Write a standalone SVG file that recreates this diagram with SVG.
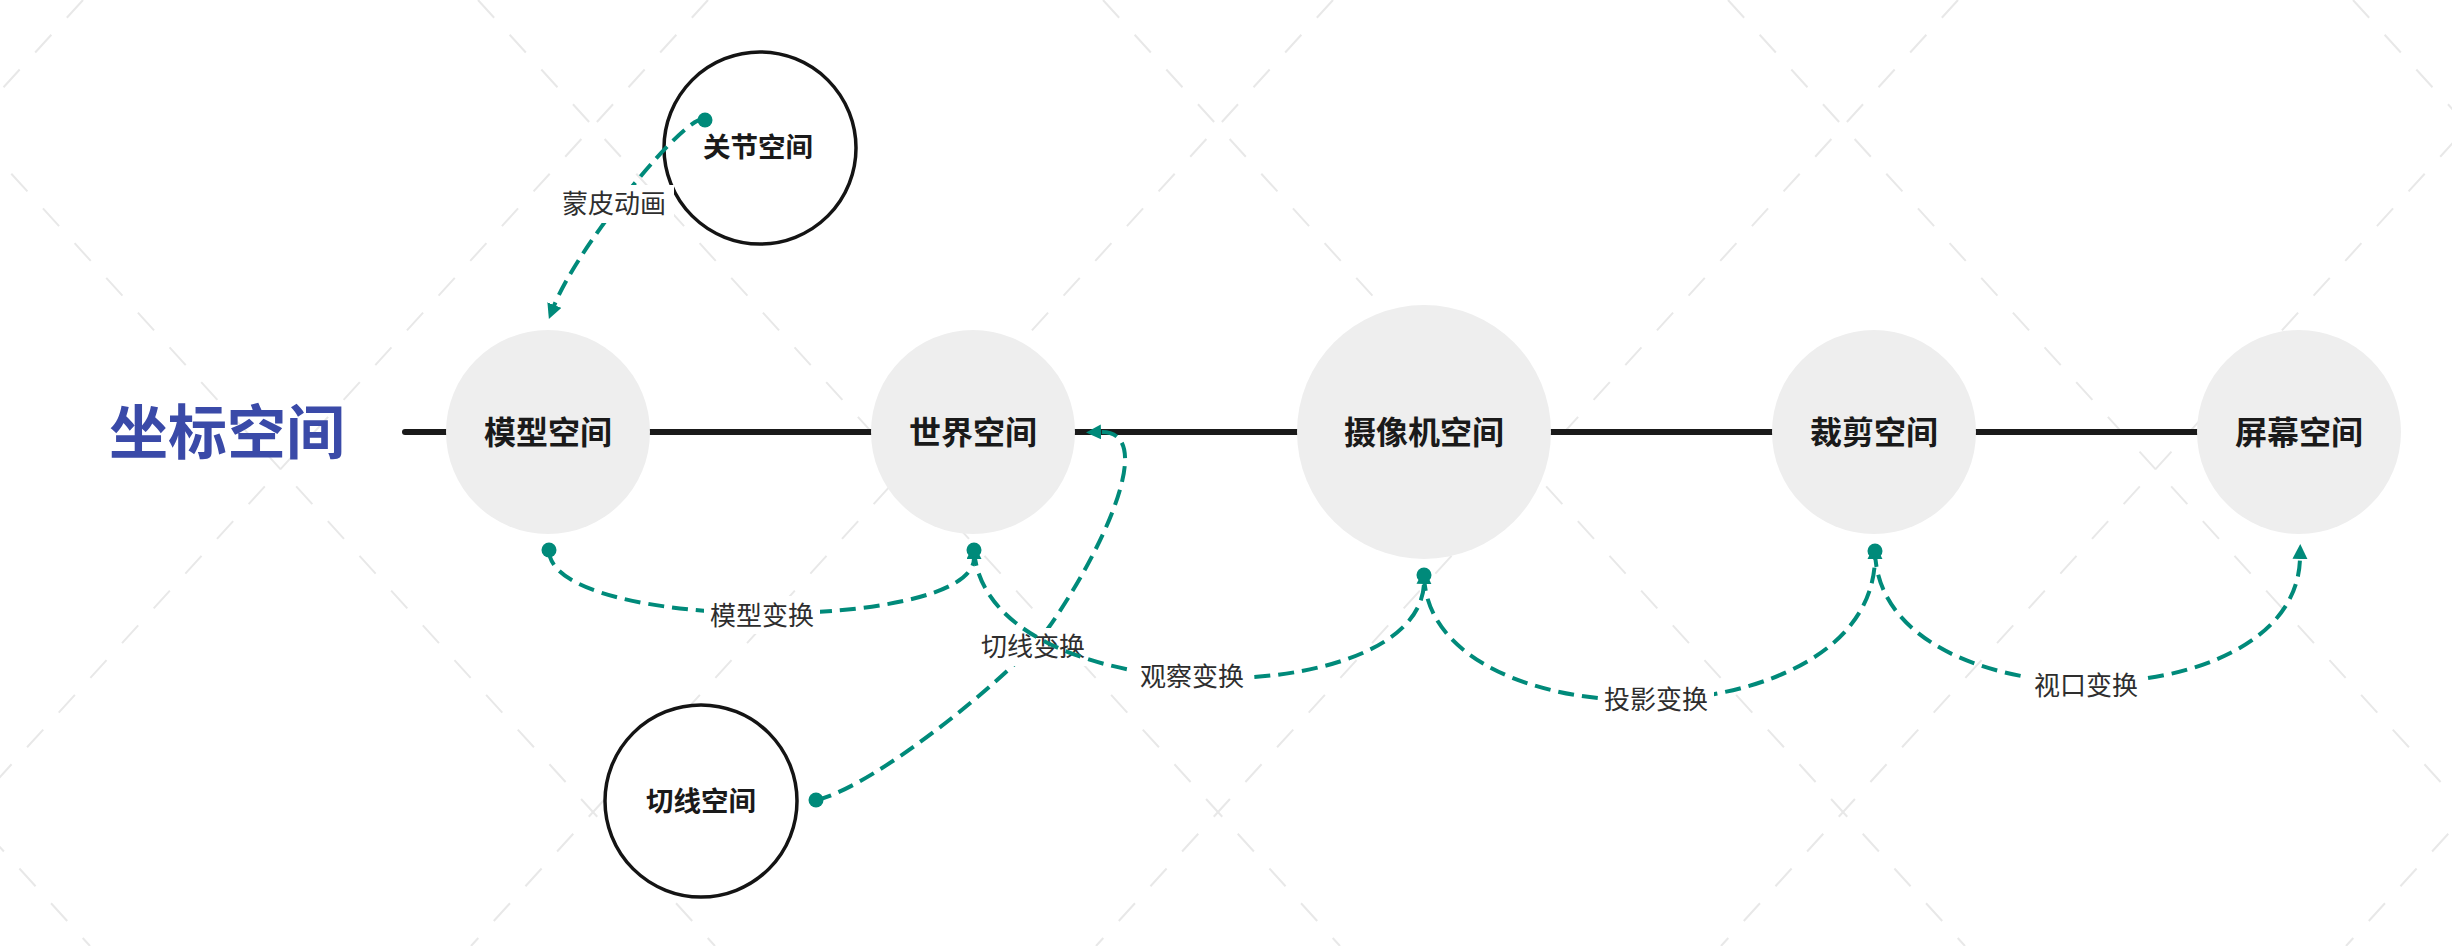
<svg xmlns="http://www.w3.org/2000/svg" width="2452" height="946" viewBox="0 0 2452 946">
  <style>
    .wm { stroke: #e8e8e8; stroke-width: 2; stroke-dasharray: 24 23; fill: none; }
    .main { stroke: #1a1a1a; stroke-width: 6; stroke-linecap: round; fill: none; }
    .node { fill: #eeeeee; }
    .ring { fill: #ffffff; stroke: #141414; stroke-width: 3.5; }
    .nt { font-family: 'Noto Sans CJK SC', 'Noto Sans', sans-serif; font-weight: bold; fill: #1a1a1a; text-anchor: middle; }
    .rel { stroke: #008a7a; stroke-width: 4; stroke-dasharray: 16 8; fill: none; }
    .lb { font-family: 'Noto Sans CJK SC', 'Noto Sans', sans-serif; font-size: 26px; fill: #2e2e2e; text-anchor: middle; }
    .lbg { fill: #ffffff; }
  </style>
  <defs>
    <marker id="dot" markerWidth="16" markerHeight="16" refX="8" refY="8" markerUnits="userSpaceOnUse">
      <circle cx="8" cy="8" r="7.5" fill="#008a7a"/>
    </marker>
    <marker id="arr" markerWidth="16" markerHeight="16" refX="1" refY="7.5" orient="auto" markerUnits="userSpaceOnUse">
      <path d="M0,0 L15,7.5 L0,15 Z" fill="#008a7a"/>
    </marker>
  </defs>
  <rect x="0" y="0" width="2452" height="946" fill="#ffffff"/>
  <g id="watermark">
    <line class="wm" x1="-772" y1="0" x2="90" y2="946"/>
    <line class="wm" x1="-147" y1="0" x2="715" y2="946"/>
    <line class="wm" x1="478" y1="0" x2="1340" y2="946"/>
    <line class="wm" x1="1103" y1="0" x2="1965" y2="946"/>
    <line class="wm" x1="1728" y1="0" x2="2590" y2="946"/>
    <line class="wm" x1="2353" y1="0" x2="3215" y2="946"/>
    <line class="wm" x1="83" y1="0" x2="-779" y2="946"/>
    <line class="wm" x1="708" y1="0" x2="-154" y2="946"/>
    <line class="wm" x1="1333" y1="0" x2="471" y2="946"/>
    <line class="wm" x1="1958" y1="0" x2="1096" y2="946"/>
    <line class="wm" x1="2583" y1="0" x2="1721" y2="946"/>
    <line class="wm" x1="3208" y1="0" x2="2346" y2="946"/>
  </g>
  <g id="title">
    <text x="227" y="454" font-family="'Noto Sans CJK SC', 'Noto Sans', sans-serif" font-weight="bold" font-size="59" fill="#3a4aa8" text-anchor="middle">坐标空间</text>
  </g>
  <g id="connectors">
    <line class="main" x1="405" y1="432" x2="2299" y2="432"/>
  </g>
  <g id="node-model"><circle class="node" cx="548" cy="432" r="102"/><text class="nt" x="548" y="444" font-size="32">模型空间</text></g>
  <g id="node-world"><circle class="node" cx="973" cy="432" r="102"/><text class="nt" x="973" y="444" font-size="32">世界空间</text></g>
  <g id="node-camera"><circle class="node" cx="1424" cy="432" r="127"/><text class="nt" x="1424" y="444" font-size="32">摄像机空间</text></g>
  <g id="node-clip"><circle class="node" cx="1874" cy="432" r="102"/><text class="nt" x="1874" y="444" font-size="32">裁剪空间</text></g>
  <g id="node-screen"><circle class="node" cx="2299" cy="432" r="102"/><text class="nt" x="2299" y="444" font-size="32">屏幕空间</text></g>
  <g id="node-joint"><circle class="ring" cx="760" cy="148" r="96"/><text class="nt" x="758" y="157" font-size="27.5">关节空间</text></g>
  <g id="node-tangent"><circle class="ring" cx="701" cy="801" r="96"/><text class="nt" x="701" y="811" font-size="27.5">切线空间</text></g>
  <g id="relations">
    <g id="rel-skin">
      <path class="rel" d="M705,120 C690,108 578,245 554,306" marker-start="url(#dot)" marker-end="url(#arr)"/>
      <rect class="lbg" x="555" y="185" width="119" height="38"/>
      <text class="lb" x="614" y="213">蒙皮动画</text>
    </g>
    <g id="rel-model">
      <path class="rel" d="M549,550 C549,633 974,633 974,558" marker-start="url(#dot)" marker-end="url(#arr)"/>
      <rect class="lbg" x="704" y="596" width="116" height="38"/>
      <text class="lb" x="762" y="625">模型变换</text>
    </g>
    <g id="rel-tangent">
      <path class="rel" d="M816,800 C876,787 1020,668 1049,627 C1100,555 1160,430 1100,432" marker-start="url(#dot)" marker-end="url(#arr)"/>
      <rect class="lbg" x="975" y="628" width="116" height="38"/>
      <text class="lb" x="1033" y="656">切线变换</text>
    </g>
    <g id="rel-view">
      <path class="rel" d="M974,550 C985,715 1420,715 1424,583" marker-start="url(#dot)" marker-end="url(#arr)"/>
      <rect class="lbg" x="1134" y="658" width="116" height="38"/>
      <text class="lb" x="1192" y="686">观察变换</text>
    </g>
    <g id="rel-proj">
      <path class="rel" d="M1424,575 C1428,745 1872,745 1875,558" marker-start="url(#dot)" marker-end="url(#arr)"/>
      <rect class="lbg" x="1598" y="680" width="116" height="38"/>
      <text class="lb" x="1656" y="709">投影变换</text>
    </g>
    <g id="rel-viewport">
      <path class="rel" d="M1875,551 C1878,725 2297,725 2300,558" marker-start="url(#dot)" marker-end="url(#arr)"/>
      <rect class="lbg" x="2028" y="666" width="116" height="38"/>
      <text class="lb" x="2086" y="695">视口变换</text>
    </g>
  </g>
</svg>
